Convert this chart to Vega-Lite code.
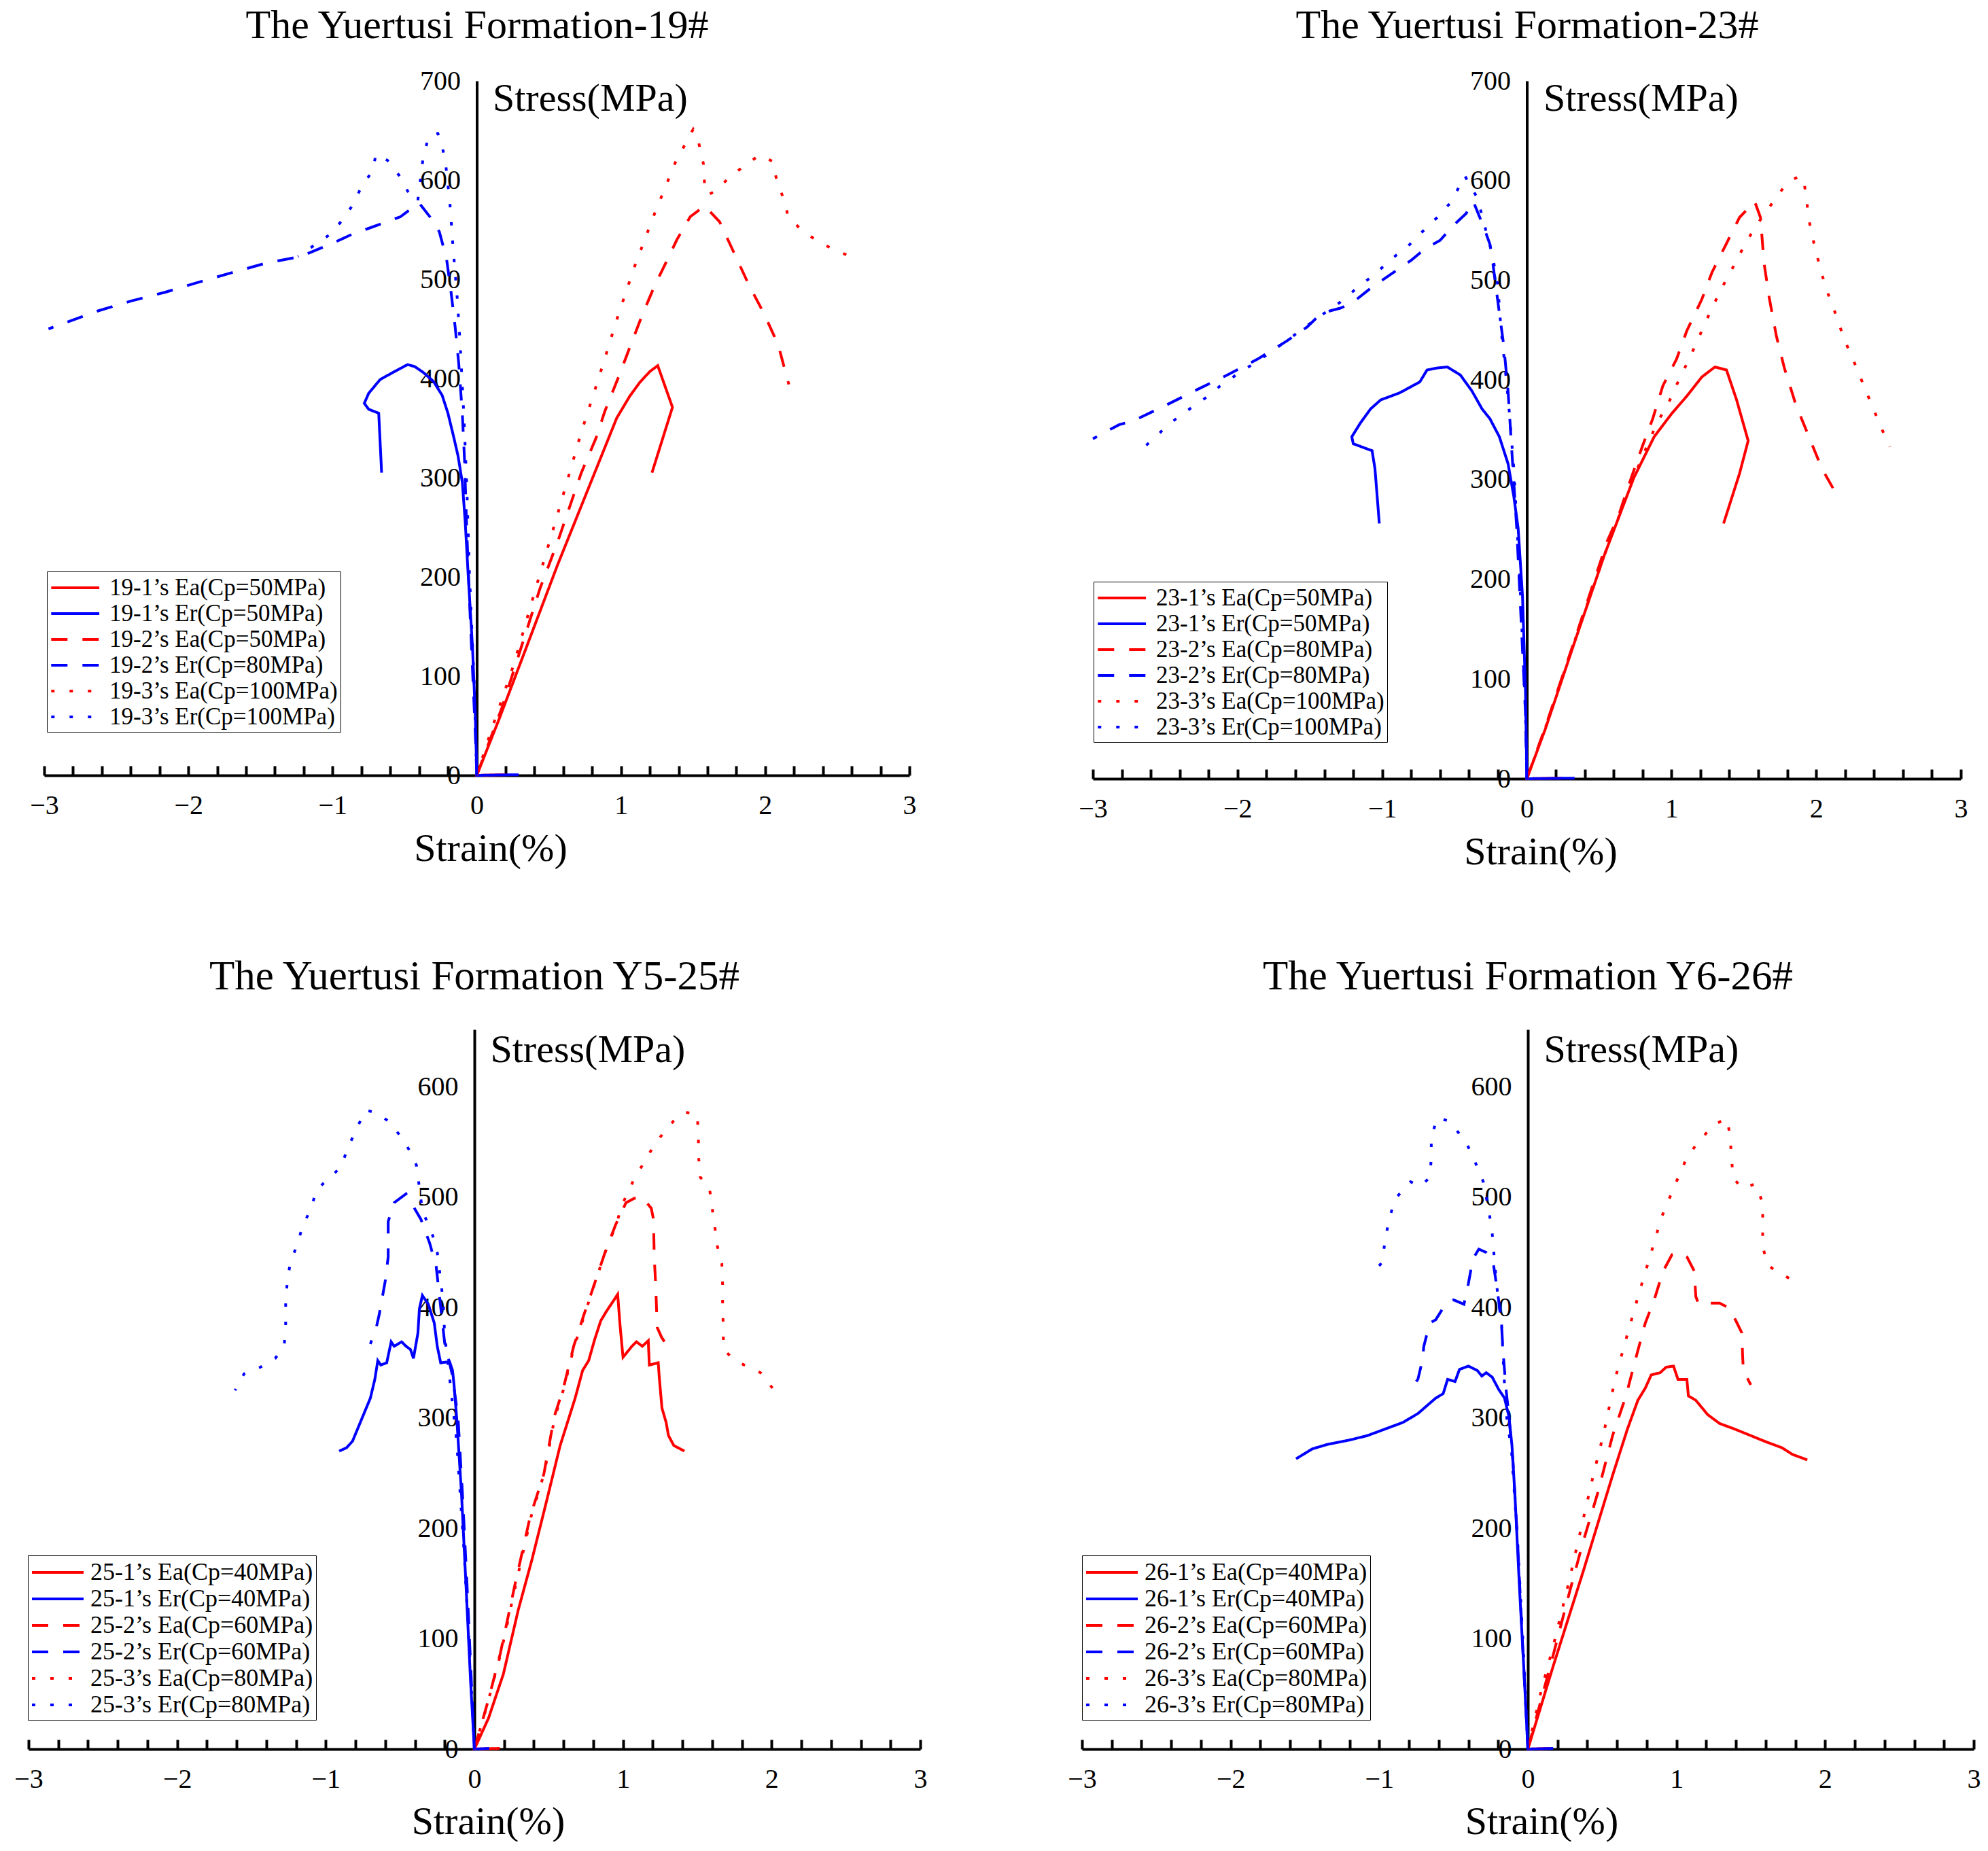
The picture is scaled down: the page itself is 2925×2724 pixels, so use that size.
{
  "$schema": "https://vega.github.io/schema/vega-lite/v6.json",
  "background": "white",
  "padding": {"left": 20, "top": 8, "right": 0, "bottom": 0},
  "bounds": "flush",
  "columns": 2,
  "spacing": {"row": 369, "column": 238},
  "resolve": {"scale": {"color": "independent", "strokeDash": "independent"}, "legend": {"color": "independent", "strokeDash": "independent"}},
  "config": {
    "view": {"stroke": null},
    "font": "Liberation Serif",
    "axis": {"labelFont": "Liberation Serif", "titleFont": "Liberation Serif", "labelColor": "black", "titleColor": "black", "domainColor": "black", "tickColor": "black", "grid": false, "labelFontSize": 40, "titleFontSize": 58, "titleFontWeight": "normal", "labelOverlap": false, "labelFlush": false},
    "axisX": {"values": [-3,-2.5,-2,-1.5,-1,-0.5,0,0.5,1,1.5,2,2.5,3], "labelExpr": "datum.value % 1 === 0 ? format(datum.value, 'd') : ''", "tickSize": -14, "tickWidth": 4, "domainWidth": 4, "labelPadding": 70, "labelBaseline": "alphabetic", "titleAlign": "center", "titleBaseline": "alphabetic"},
    "axisY": {"format": "d", "ticks": false, "domainWidth": 4, "labelPadding": 24, "labelBaseline": "middle", "titleAngle": 0, "titleAlign": "left", "titleBaseline": "alphabetic"},
    "title": {"font": "Liberation Serif", "fontSize": 60, "fontWeight": "normal", "anchor": "middle", "frame": "group", "baseline": "alphabetic", "offset": 30, "color": "black"},
    "legend": {"title": null, "orient": "none", "strokeColor": "black", "padding": 4, "labelFont": "Liberation Serif", "labelFontSize": 35, "labelColor": "black", "symbolType": "M-1,0H3", "symbolSize": 1253, "symbolStrokeWidth": 4, "labelOffset": 48, "rowPadding": 0, "labelLimit": 0}
  },
  "datasets": {
    "p19": [
      {"s":"19-1’s Ea(Cp=50MPa)","x":0.2,"y":0.6},{"s":"19-1’s Ea(Cp=50MPa)","x":0,"y":0},{"s":"19-1’s Ea(Cp=50MPa)","x":0.153,"y":56},{"s":"19-1’s Ea(Cp=50MPa)","x":0.357,"y":134},{"s":"19-1’s Ea(Cp=50MPa)","x":0.56,"y":212},{"s":"19-1’s Ea(Cp=50MPa)","x":0.765,"y":286},{"s":"19-1’s Ea(Cp=50MPa)","x":0.97,"y":360},{"s":"19-1’s Ea(Cp=50MPa)","x":1.06,"y":382},{"s":"19-1’s Ea(Cp=50MPa)","x":1.13,"y":396},{"s":"19-1’s Ea(Cp=50MPa)","x":1.2,"y":407},{"s":"19-1’s Ea(Cp=50MPa)","x":1.255,"y":413},{"s":"19-1’s Ea(Cp=50MPa)","x":1.357,"y":371},{"s":"19-1’s Ea(Cp=50MPa)","x":1.215,"y":305},
      {"s":"19-1’s Er(Cp=50MPa)","x":0.29,"y":0.6},{"s":"19-1’s Er(Cp=50MPa)","x":0,"y":0},{"s":"19-1’s Er(Cp=50MPa)","x":-0.01,"y":60},{"s":"19-1’s Er(Cp=50MPa)","x":-0.03,"y":130},{"s":"19-1’s Er(Cp=50MPa)","x":-0.06,"y":203},{"s":"19-1’s Er(Cp=50MPa)","x":-0.08,"y":255},{"s":"19-1’s Er(Cp=50MPa)","x":-0.1,"y":295},{"s":"19-1’s Er(Cp=50MPa)","x":-0.13,"y":322},{"s":"19-1’s Er(Cp=50MPa)","x":-0.16,"y":341},{"s":"19-1’s Er(Cp=50MPa)","x":-0.2,"y":365},{"s":"19-1’s Er(Cp=50MPa)","x":-0.24,"y":383},{"s":"19-1’s Er(Cp=50MPa)","x":-0.3,"y":397},{"s":"19-1’s Er(Cp=50MPa)","x":-0.37,"y":406},{"s":"19-1’s Er(Cp=50MPa)","x":-0.43,"y":412},{"s":"19-1’s Er(Cp=50MPa)","x":-0.48,"y":414},{"s":"19-1’s Er(Cp=50MPa)","x":-0.57,"y":407},{"s":"19-1’s Er(Cp=50MPa)","x":-0.67,"y":399},{"s":"19-1’s Er(Cp=50MPa)","x":-0.75,"y":385},{"s":"19-1’s Er(Cp=50MPa)","x":-0.78,"y":375},{"s":"19-1’s Er(Cp=50MPa)","x":-0.75,"y":369},{"s":"19-1’s Er(Cp=50MPa)","x":-0.68,"y":365},{"s":"19-1’s Er(Cp=50MPa)","x":-0.66,"y":305},
      {"s":"19-2’s Ea(Cp=50MPa)","x":0,"y":0},{"s":"19-2’s Ea(Cp=50MPa)","x":0.174,"y":68},{"s":"19-2’s Ea(Cp=50MPa)","x":0.44,"y":189},{"s":"19-2’s Ea(Cp=50MPa)","x":0.56,"y":235},{"s":"19-2’s Ea(Cp=50MPa)","x":0.725,"y":305},{"s":"19-2’s Ea(Cp=50MPa)","x":0.827,"y":340},{"s":"19-2’s Ea(Cp=50MPa)","x":0.888,"y":367},{"s":"19-2’s Ea(Cp=50MPa)","x":0.99,"y":404},{"s":"19-2’s Ea(Cp=50MPa)","x":1.06,"y":431},{"s":"19-2’s Ea(Cp=50MPa)","x":1.153,"y":466},{"s":"19-2’s Ea(Cp=50MPa)","x":1.235,"y":494},{"s":"19-2’s Ea(Cp=50MPa)","x":1.296,"y":512},{"s":"19-2’s Ea(Cp=50MPa)","x":1.388,"y":540},{"s":"19-2’s Ea(Cp=50MPa)","x":1.48,"y":563},{"s":"19-2’s Ea(Cp=50MPa)","x":1.58,"y":574},{"s":"19-2’s Ea(Cp=50MPa)","x":1.684,"y":558},{"s":"19-2’s Ea(Cp=50MPa)","x":1.786,"y":526},{"s":"19-2’s Ea(Cp=50MPa)","x":1.888,"y":494},{"s":"19-2’s Ea(Cp=50MPa)","x":1.99,"y":466},{"s":"19-2’s Ea(Cp=50MPa)","x":2.09,"y":434},{"s":"19-2’s Ea(Cp=50MPa)","x":2.164,"y":394},
      {"s":"19-2’s Er(Cp=80MPa)","x":0,"y":0},{"s":"19-2’s Er(Cp=80MPa)","x":-0.01,"y":42},{"s":"19-2’s Er(Cp=80MPa)","x":-0.045,"y":157},{"s":"19-2’s Er(Cp=80MPa)","x":-0.07,"y":249},{"s":"19-2’s Er(Cp=80MPa)","x":-0.085,"y":318},{"s":"19-2’s Er(Cp=80MPa)","x":-0.1,"y":364},{"s":"19-2’s Er(Cp=80MPa)","x":-0.125,"y":415},{"s":"19-2’s Er(Cp=80MPa)","x":-0.15,"y":452},{"s":"19-2’s Er(Cp=80MPa)","x":-0.18,"y":489},{"s":"19-2’s Er(Cp=80MPa)","x":-0.21,"y":521},{"s":"19-2’s Er(Cp=80MPa)","x":-0.26,"y":548},{"s":"19-2’s Er(Cp=80MPa)","x":-0.32,"y":562},{"s":"19-2’s Er(Cp=80MPa)","x":-0.4,"y":577},{"s":"19-2’s Er(Cp=80MPa)","x":-0.53,"y":563},{"s":"19-2’s Er(Cp=80MPa)","x":-0.87,"y":545},{"s":"19-2’s Er(Cp=80MPa)","x":-0.99,"y":537},{"s":"19-2’s Er(Cp=80MPa)","x":-1.22,"y":523},{"s":"19-2’s Er(Cp=80MPa)","x":-1.47,"y":516},{"s":"19-2’s Er(Cp=80MPa)","x":-1.69,"y":507},{"s":"19-2’s Er(Cp=80MPa)","x":-1.93,"y":497},{"s":"19-2’s Er(Cp=80MPa)","x":-2.16,"y":487},{"s":"19-2’s Er(Cp=80MPa)","x":-2.4,"y":478},{"s":"19-2’s Er(Cp=80MPa)","x":-2.63,"y":468},{"s":"19-2’s Er(Cp=80MPa)","x":-2.97,"y":450},
      {"s":"19-3’s Ea(Cp=100MPa)","x":0,"y":0},{"s":"19-3’s Ea(Cp=100MPa)","x":0.1,"y":45},{"s":"19-3’s Ea(Cp=100MPa)","x":0.255,"y":111},{"s":"19-3’s Ea(Cp=100MPa)","x":0.41,"y":189},{"s":"19-3’s Ea(Cp=100MPa)","x":0.56,"y":263},{"s":"19-3’s Ea(Cp=100MPa)","x":0.725,"y":346},{"s":"19-3’s Ea(Cp=100MPa)","x":0.847,"y":401},{"s":"19-3’s Ea(Cp=100MPa)","x":0.97,"y":459},{"s":"19-3’s Ea(Cp=100MPa)","x":1.092,"y":512},{"s":"19-3’s Ea(Cp=100MPa)","x":1.235,"y":567},{"s":"19-3’s Ea(Cp=100MPa)","x":1.378,"y":618},{"s":"19-3’s Ea(Cp=100MPa)","x":1.5,"y":651},{"s":"19-3’s Ea(Cp=100MPa)","x":1.54,"y":637},{"s":"19-3’s Ea(Cp=100MPa)","x":1.572,"y":616},{"s":"19-3’s Ea(Cp=100MPa)","x":1.58,"y":595},{"s":"19-3’s Ea(Cp=100MPa)","x":1.6,"y":585},{"s":"19-3’s Ea(Cp=100MPa)","x":1.643,"y":588},{"s":"19-3’s Ea(Cp=100MPa)","x":1.756,"y":603},{"s":"19-3’s Ea(Cp=100MPa)","x":1.86,"y":615},{"s":"19-3’s Ea(Cp=100MPa)","x":1.96,"y":625},{"s":"19-3’s Ea(Cp=100MPa)","x":2.05,"y":619},{"s":"19-3’s Ea(Cp=100MPa)","x":2.08,"y":600},{"s":"19-3’s Ea(Cp=100MPa)","x":2.13,"y":580},{"s":"19-3’s Ea(Cp=100MPa)","x":2.16,"y":563},{"s":"19-3’s Ea(Cp=100MPa)","x":2.256,"y":549},{"s":"19-3’s Ea(Cp=100MPa)","x":2.38,"y":537},{"s":"19-3’s Ea(Cp=100MPa)","x":2.49,"y":529},{"s":"19-3’s Ea(Cp=100MPa)","x":2.61,"y":522},
      {"s":"19-3’s Er(Cp=100MPa)","x":0,"y":0},{"s":"19-3’s Er(Cp=100MPa)","x":-0.02,"y":100},{"s":"19-3’s Er(Cp=100MPa)","x":-0.05,"y":200},{"s":"19-3’s Er(Cp=100MPa)","x":-0.07,"y":295},{"s":"19-3’s Er(Cp=100MPa)","x":-0.09,"y":364},{"s":"19-3’s Er(Cp=100MPa)","x":-0.115,"y":434},{"s":"19-3’s Er(Cp=100MPa)","x":-0.135,"y":480},{"s":"19-3’s Er(Cp=100MPa)","x":-0.166,"y":535},{"s":"19-3’s Er(Cp=100MPa)","x":-0.186,"y":576},{"s":"19-3’s Er(Cp=100MPa)","x":-0.217,"y":618},{"s":"19-3’s Er(Cp=100MPa)","x":-0.25,"y":641},{"s":"19-3’s Er(Cp=100MPa)","x":-0.27,"y":647},{"s":"19-3’s Er(Cp=100MPa)","x":-0.33,"y":645},{"s":"19-3’s Er(Cp=100MPa)","x":-0.37,"y":625},{"s":"19-3’s Er(Cp=100MPa)","x":-0.41,"y":578},{"s":"19-3’s Er(Cp=100MPa)","x":-0.48,"y":589},{"s":"19-3’s Er(Cp=100MPa)","x":-0.54,"y":605},{"s":"19-3’s Er(Cp=100MPa)","x":-0.62,"y":620},{"s":"19-3’s Er(Cp=100MPa)","x":-0.7,"y":626},{"s":"19-3’s Er(Cp=100MPa)","x":-0.72,"y":610},{"s":"19-3’s Er(Cp=100MPa)","x":-0.8,"y":593},{"s":"19-3’s Er(Cp=100MPa)","x":-0.86,"y":575},{"s":"19-3’s Er(Cp=100MPa)","x":-0.93,"y":560},{"s":"19-3’s Er(Cp=100MPa)","x":-1.02,"y":545},{"s":"19-3’s Er(Cp=100MPa)","x":-1.13,"y":534},{"s":"19-3’s Er(Cp=100MPa)","x":-1.24,"y":523}
    ],
    "p23": [
      {"s":"23-1’s Ea(Cp=50MPa)","x":0.24,"y":0.6},{"s":"23-1’s Ea(Cp=50MPa)","x":0,"y":0},{"s":"23-1’s Ea(Cp=50MPa)","x":0.128,"y":50},{"s":"23-1’s Ea(Cp=50MPa)","x":0.33,"y":137},{"s":"23-1’s Ea(Cp=50MPa)","x":0.535,"y":224},{"s":"23-1’s Ea(Cp=50MPa)","x":0.74,"y":302},{"s":"23-1’s Ea(Cp=50MPa)","x":0.88,"y":343},{"s":"23-1’s Ea(Cp=50MPa)","x":1.0,"y":366},{"s":"23-1’s Ea(Cp=50MPa)","x":1.107,"y":384},{"s":"23-1’s Ea(Cp=50MPa)","x":1.21,"y":403},{"s":"23-1’s Ea(Cp=50MPa)","x":1.3,"y":413},{"s":"23-1’s Ea(Cp=50MPa)","x":1.38,"y":410},{"s":"23-1’s Ea(Cp=50MPa)","x":1.45,"y":380},{"s":"23-1’s Ea(Cp=50MPa)","x":1.53,"y":339},{"s":"23-1’s Ea(Cp=50MPa)","x":1.47,"y":306},{"s":"23-1’s Ea(Cp=50MPa)","x":1.36,"y":256},
      {"s":"23-1’s Er(Cp=50MPa)","x":0.33,"y":0.6},{"s":"23-1’s Er(Cp=50MPa)","x":0,"y":0},{"s":"23-1’s Er(Cp=50MPa)","x":-0.01,"y":91},{"s":"23-1’s Er(Cp=50MPa)","x":-0.03,"y":183},{"s":"23-1’s Er(Cp=50MPa)","x":-0.06,"y":251},{"s":"23-1’s Er(Cp=50MPa)","x":-0.09,"y":283},{"s":"23-1’s Er(Cp=50MPa)","x":-0.13,"y":316},{"s":"23-1’s Er(Cp=50MPa)","x":-0.19,"y":343},{"s":"23-1’s Er(Cp=50MPa)","x":-0.255,"y":361},{"s":"23-1’s Er(Cp=50MPa)","x":-0.31,"y":371},{"s":"23-1’s Er(Cp=50MPa)","x":-0.38,"y":389},{"s":"23-1’s Er(Cp=50MPa)","x":-0.46,"y":405},{"s":"23-1’s Er(Cp=50MPa)","x":-0.55,"y":413},{"s":"23-1’s Er(Cp=50MPa)","x":-0.62,"y":412},{"s":"23-1’s Er(Cp=50MPa)","x":-0.69,"y":410},{"s":"23-1’s Er(Cp=50MPa)","x":-0.74,"y":398},{"s":"23-1’s Er(Cp=50MPa)","x":-0.88,"y":387},{"s":"23-1’s Er(Cp=50MPa)","x":-1.01,"y":380},{"s":"23-1’s Er(Cp=50MPa)","x":-1.08,"y":371},{"s":"23-1’s Er(Cp=50MPa)","x":-1.15,"y":357},{"s":"23-1’s Er(Cp=50MPa)","x":-1.21,"y":343},{"s":"23-1’s Er(Cp=50MPa)","x":-1.2,"y":336},{"s":"23-1’s Er(Cp=50MPa)","x":-1.07,"y":329},{"s":"23-1’s Er(Cp=50MPa)","x":-1.05,"y":311},{"s":"23-1’s Er(Cp=50MPa)","x":-1.02,"y":256},
      {"s":"23-2’s Ea(Cp=80MPa)","x":0,"y":0},{"s":"23-2’s Ea(Cp=80MPa)","x":0.128,"y":52},{"s":"23-2’s Ea(Cp=80MPa)","x":0.33,"y":139},{"s":"23-2’s Ea(Cp=80MPa)","x":0.555,"y":238},{"s":"23-2’s Ea(Cp=80MPa)","x":0.637,"y":265},{"s":"23-2’s Ea(Cp=80MPa)","x":0.71,"y":297},{"s":"23-2’s Ea(Cp=80MPa)","x":0.8,"y":334},{"s":"23-2’s Ea(Cp=80MPa)","x":0.87,"y":361},{"s":"23-2’s Ea(Cp=80MPa)","x":0.94,"y":394},{"s":"23-2’s Ea(Cp=80MPa)","x":1.035,"y":421},{"s":"23-2’s Ea(Cp=80MPa)","x":1.105,"y":449},{"s":"23-2’s Ea(Cp=80MPa)","x":1.21,"y":481},{"s":"23-2’s Ea(Cp=80MPa)","x":1.28,"y":508},{"s":"23-2’s Ea(Cp=80MPa)","x":1.37,"y":534},{"s":"23-2’s Ea(Cp=80MPa)","x":1.47,"y":563},{"s":"23-2’s Ea(Cp=80MPa)","x":1.575,"y":579},{"s":"23-2’s Ea(Cp=80MPa)","x":1.615,"y":563},{"s":"23-2’s Ea(Cp=80MPa)","x":1.64,"y":517},{"s":"23-2’s Ea(Cp=80MPa)","x":1.675,"y":483},{"s":"23-2’s Ea(Cp=80MPa)","x":1.725,"y":444},{"s":"23-2’s Ea(Cp=80MPa)","x":1.78,"y":412},{"s":"23-2’s Ea(Cp=80MPa)","x":1.86,"y":375},{"s":"23-2’s Ea(Cp=80MPa)","x":1.95,"y":343},{"s":"23-2’s Ea(Cp=80MPa)","x":2.04,"y":311},{"s":"23-2’s Ea(Cp=80MPa)","x":2.165,"y":279},
      {"s":"23-2’s Er(Cp=80MPa)","x":0,"y":0},{"s":"23-2’s Er(Cp=80MPa)","x":-0.01,"y":68},{"s":"23-2’s Er(Cp=80MPa)","x":-0.04,"y":160},{"s":"23-2’s Er(Cp=80MPa)","x":-0.07,"y":251},{"s":"23-2’s Er(Cp=80MPa)","x":-0.09,"y":297},{"s":"23-2’s Er(Cp=80MPa)","x":-0.11,"y":343},{"s":"23-2’s Er(Cp=80MPa)","x":-0.13,"y":389},{"s":"23-2’s Er(Cp=80MPa)","x":-0.16,"y":435},{"s":"23-2’s Er(Cp=80MPa)","x":-0.19,"y":467},{"s":"23-2’s Er(Cp=80MPa)","x":-0.235,"y":517},{"s":"23-2’s Er(Cp=80MPa)","x":-0.255,"y":536},{"s":"23-2’s Er(Cp=80MPa)","x":-0.3,"y":554},{"s":"23-2’s Er(Cp=80MPa)","x":-0.37,"y":579},{"s":"23-2’s Er(Cp=80MPa)","x":-0.42,"y":567},{"s":"23-2’s Er(Cp=80MPa)","x":-0.5,"y":556},{"s":"23-2’s Er(Cp=80MPa)","x":-0.6,"y":540},{"s":"23-2’s Er(Cp=80MPa)","x":-0.7,"y":532},{"s":"23-2’s Er(Cp=80MPa)","x":-0.8,"y":520},{"s":"23-2’s Er(Cp=80MPa)","x":-0.88,"y":512},{"s":"23-2’s Er(Cp=80MPa)","x":-1.0,"y":500},{"s":"23-2’s Er(Cp=80MPa)","x":-1.08,"y":492},{"s":"23-2’s Er(Cp=80MPa)","x":-1.21,"y":477},{"s":"23-2’s Er(Cp=80MPa)","x":-1.29,"y":472},{"s":"23-2’s Er(Cp=80MPa)","x":-1.42,"y":467},{"s":"23-2’s Er(Cp=80MPa)","x":-1.52,"y":453},{"s":"23-2’s Er(Cp=80MPa)","x":-1.66,"y":439},{"s":"23-2’s Er(Cp=80MPa)","x":-1.86,"y":421},{"s":"23-2’s Er(Cp=80MPa)","x":-2.07,"y":405},{"s":"23-2’s Er(Cp=80MPa)","x":-2.27,"y":391},{"s":"23-2’s Er(Cp=80MPa)","x":-2.49,"y":375},{"s":"23-2’s Er(Cp=80MPa)","x":-2.72,"y":359},{"s":"23-2’s Er(Cp=80MPa)","x":-2.82,"y":355},{"s":"23-2’s Er(Cp=80MPa)","x":-3.0,"y":341},
      {"s":"23-3’s Ea(Cp=100MPa)","x":0,"y":0},{"s":"23-3’s Ea(Cp=100MPa)","x":0.13,"y":52},{"s":"23-3’s Ea(Cp=100MPa)","x":0.33,"y":138},{"s":"23-3’s Ea(Cp=100MPa)","x":0.54,"y":226},{"s":"23-3’s Ea(Cp=100MPa)","x":0.74,"y":303},{"s":"23-3’s Ea(Cp=100MPa)","x":0.9,"y":357},{"s":"23-3’s Ea(Cp=100MPa)","x":0.98,"y":377},{"s":"23-3’s Ea(Cp=100MPa)","x":1.045,"y":398},{"s":"23-3’s Ea(Cp=100MPa)","x":1.105,"y":416},{"s":"23-3’s Ea(Cp=100MPa)","x":1.166,"y":435},{"s":"23-3’s Ea(Cp=100MPa)","x":1.22,"y":453},{"s":"23-3’s Ea(Cp=100MPa)","x":1.28,"y":472},{"s":"23-3’s Ea(Cp=100MPa)","x":1.33,"y":487},{"s":"23-3’s Ea(Cp=100MPa)","x":1.39,"y":504},{"s":"23-3’s Ea(Cp=100MPa)","x":1.44,"y":517},{"s":"23-3’s Ea(Cp=100MPa)","x":1.5,"y":534},{"s":"23-3’s Ea(Cp=100MPa)","x":1.565,"y":550},{"s":"23-3’s Ea(Cp=100MPa)","x":1.625,"y":563},{"s":"23-3’s Ea(Cp=100MPa)","x":1.695,"y":577},{"s":"23-3’s Ea(Cp=100MPa)","x":1.77,"y":592},{"s":"23-3’s Ea(Cp=100MPa)","x":1.84,"y":601},{"s":"23-3’s Ea(Cp=100MPa)","x":1.89,"y":605},{"s":"23-3’s Ea(Cp=100MPa)","x":1.92,"y":595},{"s":"23-3’s Ea(Cp=100MPa)","x":1.94,"y":573},{"s":"23-3’s Ea(Cp=100MPa)","x":1.96,"y":552},{"s":"23-3’s Ea(Cp=100MPa)","x":1.99,"y":534},{"s":"23-3’s Ea(Cp=100MPa)","x":2.03,"y":511},{"s":"23-3’s Ea(Cp=100MPa)","x":2.07,"y":491},{"s":"23-3’s Ea(Cp=100MPa)","x":2.12,"y":472},{"s":"23-3’s Ea(Cp=100MPa)","x":2.17,"y":451},{"s":"23-3’s Ea(Cp=100MPa)","x":2.22,"y":432},{"s":"23-3’s Ea(Cp=100MPa)","x":2.28,"y":412},{"s":"23-3’s Ea(Cp=100MPa)","x":2.33,"y":394},{"s":"23-3’s Ea(Cp=100MPa)","x":2.39,"y":373},{"s":"23-3’s Ea(Cp=100MPa)","x":2.45,"y":352},{"s":"23-3’s Ea(Cp=100MPa)","x":2.51,"y":333},
      {"s":"23-3’s Er(Cp=100MPa)","x":0,"y":0},{"s":"23-3’s Er(Cp=100MPa)","x":-0.01,"y":68},{"s":"23-3’s Er(Cp=100MPa)","x":-0.05,"y":205},{"s":"23-3’s Er(Cp=100MPa)","x":-0.09,"y":311},{"s":"23-3’s Er(Cp=100MPa)","x":-0.12,"y":366},{"s":"23-3’s Er(Cp=100MPa)","x":-0.15,"y":412},{"s":"23-3’s Er(Cp=100MPa)","x":-0.18,"y":453},{"s":"23-3’s Er(Cp=100MPa)","x":-0.2,"y":494},{"s":"23-3’s Er(Cp=100MPa)","x":-0.24,"y":527},{"s":"23-3’s Er(Cp=100MPa)","x":-0.3,"y":559},{"s":"23-3’s Er(Cp=100MPa)","x":-0.34,"y":582},{"s":"23-3’s Er(Cp=100MPa)","x":-0.43,"y":605},{"s":"23-3’s Er(Cp=100MPa)","x":-0.52,"y":579},{"s":"23-3’s Er(Cp=100MPa)","x":-0.62,"y":563},{"s":"23-3’s Er(Cp=100MPa)","x":-0.72,"y":549},{"s":"23-3’s Er(Cp=100MPa)","x":-0.83,"y":533},{"s":"23-3’s Er(Cp=100MPa)","x":-0.94,"y":521},{"s":"23-3’s Er(Cp=100MPa)","x":-1.05,"y":506},{"s":"23-3’s Er(Cp=100MPa)","x":-1.16,"y":494},{"s":"23-3’s Er(Cp=100MPa)","x":-1.29,"y":478},{"s":"23-3’s Er(Cp=100MPa)","x":-1.4,"y":467},{"s":"23-3’s Er(Cp=100MPa)","x":-1.57,"y":449},{"s":"23-3’s Er(Cp=100MPa)","x":-1.74,"y":431},{"s":"23-3’s Er(Cp=100MPa)","x":-1.86,"y":419},{"s":"23-3’s Er(Cp=100MPa)","x":-2.0,"y":406},{"s":"23-3’s Er(Cp=100MPa)","x":-2.12,"y":394},{"s":"23-3’s Er(Cp=100MPa)","x":-2.23,"y":381},{"s":"23-3’s Er(Cp=100MPa)","x":-2.36,"y":368},{"s":"23-3’s Er(Cp=100MPa)","x":-2.48,"y":355},{"s":"23-3’s Er(Cp=100MPa)","x":-2.58,"y":341},{"s":"23-3’s Er(Cp=100MPa)","x":-2.69,"y":327}
    ],
    "p25": [
      {"s":"25-1’s Ea(Cp=40MPa)","x":0.17,"y":0.6},{"s":"25-1’s Ea(Cp=40MPa)","x":0,"y":0},{"s":"25-1’s Ea(Cp=40MPa)","x":0.095,"y":28},{"s":"25-1’s Ea(Cp=40MPa)","x":0.195,"y":68},{"s":"25-1’s Ea(Cp=40MPa)","x":0.295,"y":126},{"s":"25-1’s Ea(Cp=40MPa)","x":0.386,"y":171},{"s":"25-1’s Ea(Cp=40MPa)","x":0.477,"y":220},{"s":"25-1’s Ea(Cp=40MPa)","x":0.577,"y":275},{"s":"25-1’s Ea(Cp=40MPa)","x":0.678,"y":318},{"s":"25-1’s Ea(Cp=40MPa)","x":0.728,"y":343},{"s":"25-1’s Ea(Cp=40MPa)","x":0.769,"y":352},{"s":"25-1’s Ea(Cp=40MPa)","x":0.809,"y":371},{"s":"25-1’s Ea(Cp=40MPa)","x":0.85,"y":388},{"s":"25-1’s Ea(Cp=40MPa)","x":0.89,"y":397},{"s":"25-1’s Ea(Cp=40MPa)","x":0.93,"y":405},{"s":"25-1’s Ea(Cp=40MPa)","x":0.964,"y":412},{"s":"25-1’s Ea(Cp=40MPa)","x":0.98,"y":384},{"s":"25-1’s Ea(Cp=40MPa)","x":1.0,"y":355},{"s":"25-1’s Ea(Cp=40MPa)","x":1.06,"y":365},{"s":"25-1’s Ea(Cp=40MPa)","x":1.09,"y":369},{"s":"25-1’s Ea(Cp=40MPa)","x":1.13,"y":365},{"s":"25-1’s Ea(Cp=40MPa)","x":1.17,"y":370},{"s":"25-1’s Ea(Cp=40MPa)","x":1.177,"y":348},{"s":"25-1’s Ea(Cp=40MPa)","x":1.237,"y":350},{"s":"25-1’s Ea(Cp=40MPa)","x":1.245,"y":335},{"s":"25-1’s Ea(Cp=40MPa)","x":1.262,"y":309},{"s":"25-1’s Ea(Cp=40MPa)","x":1.29,"y":296},{"s":"25-1’s Ea(Cp=40MPa)","x":1.306,"y":284},{"s":"25-1’s Ea(Cp=40MPa)","x":1.342,"y":275},{"s":"25-1’s Ea(Cp=40MPa)","x":1.413,"y":270},
      {"s":"25-1’s Er(Cp=40MPa)","x":0.1,"y":0.6},{"s":"25-1’s Er(Cp=40MPa)","x":0,"y":0},{"s":"25-1’s Er(Cp=40MPa)","x":-0.026,"y":62},{"s":"25-1’s Er(Cp=40MPa)","x":-0.056,"y":147},{"s":"25-1’s Er(Cp=40MPa)","x":-0.087,"y":232},{"s":"25-1’s Er(Cp=40MPa)","x":-0.117,"y":296},{"s":"25-1’s Er(Cp=40MPa)","x":-0.137,"y":330},{"s":"25-1’s Er(Cp=40MPa)","x":-0.147,"y":343},{"s":"25-1’s Er(Cp=40MPa)","x":-0.167,"y":351},{"s":"25-1’s Er(Cp=40MPa)","x":-0.227,"y":350},{"s":"25-1’s Er(Cp=40MPa)","x":-0.25,"y":365},{"s":"25-1’s Er(Cp=40MPa)","x":-0.27,"y":386},{"s":"25-1’s Er(Cp=40MPa)","x":-0.31,"y":403},{"s":"25-1’s Er(Cp=40MPa)","x":-0.35,"y":411},{"s":"25-1’s Er(Cp=40MPa)","x":-0.37,"y":399},{"s":"25-1’s Er(Cp=40MPa)","x":-0.38,"y":377},{"s":"25-1’s Er(Cp=40MPa)","x":-0.41,"y":354},{"s":"25-1’s Er(Cp=40MPa)","x":-0.43,"y":362},{"s":"25-1’s Er(Cp=40MPa)","x":-0.46,"y":365},{"s":"25-1’s Er(Cp=40MPa)","x":-0.49,"y":369},{"s":"25-1’s Er(Cp=40MPa)","x":-0.54,"y":365},{"s":"25-1’s Er(Cp=40MPa)","x":-0.56,"y":369},{"s":"25-1’s Er(Cp=40MPa)","x":-0.59,"y":350},{"s":"25-1’s Er(Cp=40MPa)","x":-0.63,"y":348},{"s":"25-1’s Er(Cp=40MPa)","x":-0.65,"y":352},{"s":"25-1’s Er(Cp=40MPa)","x":-0.67,"y":335},{"s":"25-1’s Er(Cp=40MPa)","x":-0.7,"y":318},{"s":"25-1’s Er(Cp=40MPa)","x":-0.74,"y":305},{"s":"25-1’s Er(Cp=40MPa)","x":-0.78,"y":292},{"s":"25-1’s Er(Cp=40MPa)","x":-0.82,"y":279},{"s":"25-1’s Er(Cp=40MPa)","x":-0.86,"y":273},{"s":"25-1’s Er(Cp=40MPa)","x":-0.91,"y":270},
      {"s":"25-2’s Ea(Cp=60MPa)","x":0,"y":0},{"s":"25-2’s Ea(Cp=60MPa)","x":0.095,"y":45},{"s":"25-2’s Ea(Cp=60MPa)","x":0.175,"y":87},{"s":"25-2’s Ea(Cp=60MPa)","x":0.276,"y":151},{"s":"25-2’s Ea(Cp=60MPa)","x":0.376,"y":211},{"s":"25-2’s Ea(Cp=60MPa)","x":0.467,"y":249},{"s":"25-2’s Ea(Cp=60MPa)","x":0.537,"y":301},{"s":"25-2’s Ea(Cp=60MPa)","x":0.597,"y":326},{"s":"25-2’s Ea(Cp=60MPa)","x":0.668,"y":365},{"s":"25-2’s Ea(Cp=60MPa)","x":0.738,"y":394},{"s":"25-2’s Ea(Cp=60MPa)","x":0.799,"y":418},{"s":"25-2’s Ea(Cp=60MPa)","x":0.879,"y":450},{"s":"25-2’s Ea(Cp=60MPa)","x":0.95,"y":475},{"s":"25-2’s Ea(Cp=60MPa)","x":1.02,"y":495},{"s":"25-2’s Ea(Cp=60MPa)","x":1.076,"y":499},{"s":"25-2’s Ea(Cp=60MPa)","x":1.13,"y":500},{"s":"25-2’s Ea(Cp=60MPa)","x":1.19,"y":490},{"s":"25-2’s Ea(Cp=60MPa)","x":1.205,"y":480},{"s":"25-2’s Ea(Cp=60MPa)","x":1.21,"y":446},{"s":"25-2’s Ea(Cp=60MPa)","x":1.22,"y":420},{"s":"25-2’s Ea(Cp=60MPa)","x":1.23,"y":382},{"s":"25-2’s Ea(Cp=60MPa)","x":1.26,"y":373},{"s":"25-2’s Ea(Cp=60MPa)","x":1.29,"y":367},
      {"s":"25-2’s Er(Cp=60MPa)","x":0,"y":0},{"s":"25-2’s Er(Cp=60MPa)","x":-0.02,"y":60},{"s":"25-2’s Er(Cp=60MPa)","x":-0.05,"y":150},{"s":"25-2’s Er(Cp=60MPa)","x":-0.08,"y":230},{"s":"25-2’s Er(Cp=60MPa)","x":-0.11,"y":300},{"s":"25-2’s Er(Cp=60MPa)","x":-0.15,"y":340},{"s":"25-2’s Er(Cp=60MPa)","x":-0.2,"y":368},{"s":"25-2’s Er(Cp=60MPa)","x":-0.257,"y":437},{"s":"25-2’s Er(Cp=60MPa)","x":-0.3,"y":458},{"s":"25-2’s Er(Cp=60MPa)","x":-0.36,"y":480},{"s":"25-2’s Er(Cp=60MPa)","x":-0.46,"y":503},{"s":"25-2’s Er(Cp=60MPa)","x":-0.54,"y":495},{"s":"25-2’s Er(Cp=60MPa)","x":-0.58,"y":478},{"s":"25-2’s Er(Cp=60MPa)","x":-0.58,"y":446},{"s":"25-2’s Er(Cp=60MPa)","x":-0.6,"y":424},{"s":"25-2’s Er(Cp=60MPa)","x":-0.64,"y":394},{"s":"25-2’s Er(Cp=60MPa)","x":-0.66,"y":382},{"s":"25-2’s Er(Cp=60MPa)","x":-0.7,"y":367},
      {"s":"25-3’s Ea(Cp=80MPa)","x":0,"y":0},{"s":"25-3’s Ea(Cp=80MPa)","x":0.09,"y":42},{"s":"25-3’s Ea(Cp=80MPa)","x":0.18,"y":88},{"s":"25-3’s Ea(Cp=80MPa)","x":0.28,"y":150},{"s":"25-3’s Ea(Cp=80MPa)","x":0.38,"y":210},{"s":"25-3’s Ea(Cp=80MPa)","x":0.47,"y":250},{"s":"25-3’s Ea(Cp=80MPa)","x":0.54,"y":300},{"s":"25-3’s Ea(Cp=80MPa)","x":0.6,"y":326},{"s":"25-3’s Ea(Cp=80MPa)","x":0.67,"y":364},{"s":"25-3’s Ea(Cp=80MPa)","x":0.74,"y":393},{"s":"25-3’s Ea(Cp=80MPa)","x":0.8,"y":418},{"s":"25-3’s Ea(Cp=80MPa)","x":0.88,"y":450},{"s":"25-3’s Ea(Cp=80MPa)","x":0.95,"y":474},{"s":"25-3’s Ea(Cp=80MPa)","x":1.0,"y":495},{"s":"25-3’s Ea(Cp=80MPa)","x":1.08,"y":518},{"s":"25-3’s Ea(Cp=80MPa)","x":1.14,"y":531},{"s":"25-3’s Ea(Cp=80MPa)","x":1.2,"y":545},{"s":"25-3’s Ea(Cp=80MPa)","x":1.27,"y":558},{"s":"25-3’s Ea(Cp=80MPa)","x":1.34,"y":569},{"s":"25-3’s Ea(Cp=80MPa)","x":1.42,"y":577},{"s":"25-3’s Ea(Cp=80MPa)","x":1.5,"y":575},{"s":"25-3’s Ea(Cp=80MPa)","x":1.507,"y":554},{"s":"25-3’s Ea(Cp=80MPa)","x":1.51,"y":534},{"s":"25-3’s Ea(Cp=80MPa)","x":1.52,"y":518},{"s":"25-3’s Ea(Cp=80MPa)","x":1.58,"y":510},{"s":"25-3’s Ea(Cp=80MPa)","x":1.6,"y":490},{"s":"25-3’s Ea(Cp=80MPa)","x":1.62,"y":471},{"s":"25-3’s Ea(Cp=80MPa)","x":1.63,"y":458},{"s":"25-3’s Ea(Cp=80MPa)","x":1.665,"y":440},{"s":"25-3’s Ea(Cp=80MPa)","x":1.67,"y":421},{"s":"25-3’s Ea(Cp=80MPa)","x":1.67,"y":401},{"s":"25-3’s Ea(Cp=80MPa)","x":1.675,"y":382},{"s":"25-3’s Ea(Cp=80MPa)","x":1.675,"y":362},{"s":"25-3’s Ea(Cp=80MPa)","x":1.755,"y":352},{"s":"25-3’s Ea(Cp=80MPa)","x":1.815,"y":348},{"s":"25-3’s Ea(Cp=80MPa)","x":1.925,"y":341},{"s":"25-3’s Ea(Cp=80MPa)","x":2.006,"y":327},
      {"s":"25-3’s Er(Cp=80MPa)","x":0,"y":0},{"s":"25-3’s Er(Cp=80MPa)","x":-0.03,"y":80},{"s":"25-3’s Er(Cp=80MPa)","x":-0.07,"y":180},{"s":"25-3’s Er(Cp=80MPa)","x":-0.12,"y":280},{"s":"25-3’s Er(Cp=80MPa)","x":-0.17,"y":340},{"s":"25-3’s Er(Cp=80MPa)","x":-0.2,"y":375},{"s":"25-3’s Er(Cp=80MPa)","x":-0.21,"y":406},{"s":"25-3’s Er(Cp=80MPa)","x":-0.23,"y":428},{"s":"25-3’s Er(Cp=80MPa)","x":-0.25,"y":450},{"s":"25-3’s Er(Cp=80MPa)","x":-0.28,"y":465},{"s":"25-3’s Er(Cp=80MPa)","x":-0.35,"y":488},{"s":"25-3’s Er(Cp=80MPa)","x":-0.39,"y":529},{"s":"25-3’s Er(Cp=80MPa)","x":-0.43,"y":541},{"s":"25-3’s Er(Cp=80MPa)","x":-0.49,"y":554},{"s":"25-3’s Er(Cp=80MPa)","x":-0.57,"y":568},{"s":"25-3’s Er(Cp=80MPa)","x":-0.65,"y":576},{"s":"25-3’s Er(Cp=80MPa)","x":-0.73,"y":579},{"s":"25-3’s Er(Cp=80MPa)","x":-0.79,"y":563},{"s":"25-3’s Er(Cp=80MPa)","x":-0.85,"y":545},{"s":"25-3’s Er(Cp=80MPa)","x":-0.9,"y":527},{"s":"25-3’s Er(Cp=80MPa)","x":-0.98,"y":517},{"s":"25-3’s Er(Cp=80MPa)","x":-1.06,"y":507},{"s":"25-3’s Er(Cp=80MPa)","x":-1.1,"y":490},{"s":"25-3’s Er(Cp=80MPa)","x":-1.16,"y":472},{"s":"25-3’s Er(Cp=80MPa)","x":-1.19,"y":458},{"s":"25-3’s Er(Cp=80MPa)","x":-1.24,"y":440},{"s":"25-3’s Er(Cp=80MPa)","x":-1.26,"y":422},{"s":"25-3’s Er(Cp=80MPa)","x":-1.27,"y":403},{"s":"25-3’s Er(Cp=80MPa)","x":-1.27,"y":384},{"s":"25-3’s Er(Cp=80MPa)","x":-1.28,"y":365},{"s":"25-3’s Er(Cp=80MPa)","x":-1.34,"y":354},{"s":"25-3’s Er(Cp=80MPa)","x":-1.44,"y":346},{"s":"25-3’s Er(Cp=80MPa)","x":-1.55,"y":340},{"s":"25-3’s Er(Cp=80MPa)","x":-1.61,"y":325}
    ],
    "p26": [
      {"s":"26-1’s Ea(Cp=40MPa)","x":0.15,"y":0.6},{"s":"26-1’s Ea(Cp=40MPa)","x":0,"y":0},{"s":"26-1’s Ea(Cp=40MPa)","x":0.17,"y":75},{"s":"26-1’s Ea(Cp=40MPa)","x":0.37,"y":160},{"s":"26-1’s Ea(Cp=40MPa)","x":0.57,"y":248},{"s":"26-1’s Ea(Cp=40MPa)","x":0.67,"y":290},{"s":"26-1’s Ea(Cp=40MPa)","x":0.74,"y":316},{"s":"26-1’s Ea(Cp=40MPa)","x":0.79,"y":327},{"s":"26-1’s Ea(Cp=40MPa)","x":0.83,"y":339},{"s":"26-1’s Ea(Cp=40MPa)","x":0.89,"y":341},{"s":"26-1’s Ea(Cp=40MPa)","x":0.93,"y":346},{"s":"26-1’s Ea(Cp=40MPa)","x":0.98,"y":347},{"s":"26-1’s Ea(Cp=40MPa)","x":1.01,"y":335},{"s":"26-1’s Ea(Cp=40MPa)","x":1.07,"y":335},{"s":"26-1’s Ea(Cp=40MPa)","x":1.08,"y":320},{"s":"26-1’s Ea(Cp=40MPa)","x":1.13,"y":316},{"s":"26-1’s Ea(Cp=40MPa)","x":1.21,"y":303},{"s":"26-1’s Ea(Cp=40MPa)","x":1.29,"y":295},{"s":"26-1’s Ea(Cp=40MPa)","x":1.39,"y":290},{"s":"26-1’s Ea(Cp=40MPa)","x":1.5,"y":284},{"s":"26-1’s Ea(Cp=40MPa)","x":1.61,"y":278},{"s":"26-1’s Ea(Cp=40MPa)","x":1.71,"y":273},{"s":"26-1’s Ea(Cp=40MPa)","x":1.78,"y":267},{"s":"26-1’s Ea(Cp=40MPa)","x":1.88,"y":262},
      {"s":"26-1’s Er(Cp=40MPa)","x":0.17,"y":0.6},{"s":"26-1’s Er(Cp=40MPa)","x":0,"y":0},{"s":"26-1’s Er(Cp=40MPa)","x":-0.026,"y":70},{"s":"26-1’s Er(Cp=40MPa)","x":-0.056,"y":145},{"s":"26-1’s Er(Cp=40MPa)","x":-0.087,"y":230},{"s":"26-1’s Er(Cp=40MPa)","x":-0.107,"y":275},{"s":"26-1’s Er(Cp=40MPa)","x":-0.127,"y":301},{"s":"26-1’s Er(Cp=40MPa)","x":-0.157,"y":318},{"s":"26-1’s Er(Cp=40MPa)","x":-0.197,"y":326},{"s":"26-1’s Er(Cp=40MPa)","x":-0.24,"y":337},{"s":"26-1’s Er(Cp=40MPa)","x":-0.28,"y":341},{"s":"26-1’s Er(Cp=40MPa)","x":-0.31,"y":338},{"s":"26-1’s Er(Cp=40MPa)","x":-0.34,"y":343},{"s":"26-1’s Er(Cp=40MPa)","x":-0.4,"y":347},{"s":"26-1’s Er(Cp=40MPa)","x":-0.46,"y":344},{"s":"26-1’s Er(Cp=40MPa)","x":-0.49,"y":333},{"s":"26-1’s Er(Cp=40MPa)","x":-0.54,"y":335},{"s":"26-1’s Er(Cp=40MPa)","x":-0.57,"y":322},{"s":"26-1’s Er(Cp=40MPa)","x":-0.62,"y":318},{"s":"26-1’s Er(Cp=40MPa)","x":-0.68,"y":311},{"s":"26-1’s Er(Cp=40MPa)","x":-0.74,"y":304},{"s":"26-1’s Er(Cp=40MPa)","x":-0.84,"y":296},{"s":"26-1’s Er(Cp=40MPa)","x":-0.96,"y":290},{"s":"26-1’s Er(Cp=40MPa)","x":-1.08,"y":284},{"s":"26-1’s Er(Cp=40MPa)","x":-1.2,"y":280},{"s":"26-1’s Er(Cp=40MPa)","x":-1.35,"y":276},{"s":"26-1’s Er(Cp=40MPa)","x":-1.45,"y":272},{"s":"26-1’s Er(Cp=40MPa)","x":-1.56,"y":263},
      {"s":"26-2’s Ea(Cp=60MPa)","x":0,"y":0},{"s":"26-2’s Ea(Cp=60MPa)","x":0.17,"y":85},{"s":"26-2’s Ea(Cp=60MPa)","x":0.27,"y":137},{"s":"26-2’s Ea(Cp=60MPa)","x":0.37,"y":187},{"s":"26-2’s Ea(Cp=60MPa)","x":0.47,"y":232},{"s":"26-2’s Ea(Cp=60MPa)","x":0.57,"y":284},{"s":"26-2’s Ea(Cp=60MPa)","x":0.66,"y":320},{"s":"26-2’s Ea(Cp=60MPa)","x":0.73,"y":356},{"s":"26-2’s Ea(Cp=60MPa)","x":0.79,"y":386},{"s":"26-2’s Ea(Cp=60MPa)","x":0.85,"y":407},{"s":"26-2’s Ea(Cp=60MPa)","x":0.91,"y":433},{"s":"26-2’s Ea(Cp=60MPa)","x":0.97,"y":448},{"s":"26-2’s Ea(Cp=60MPa)","x":1.01,"y":450},{"s":"26-2’s Ea(Cp=60MPa)","x":1.07,"y":446},{"s":"26-2’s Ea(Cp=60MPa)","x":1.12,"y":433},{"s":"26-2’s Ea(Cp=60MPa)","x":1.13,"y":410},{"s":"26-2’s Ea(Cp=60MPa)","x":1.15,"y":403},{"s":"26-2’s Ea(Cp=60MPa)","x":1.21,"y":404},{"s":"26-2’s Ea(Cp=60MPa)","x":1.29,"y":404},{"s":"26-2’s Ea(Cp=60MPa)","x":1.35,"y":400},{"s":"26-2’s Ea(Cp=60MPa)","x":1.4,"y":388},{"s":"26-2’s Ea(Cp=60MPa)","x":1.44,"y":377},{"s":"26-2’s Ea(Cp=60MPa)","x":1.445,"y":356},{"s":"26-2’s Ea(Cp=60MPa)","x":1.45,"y":343},{"s":"26-2’s Ea(Cp=60MPa)","x":1.5,"y":330},
      {"s":"26-2’s Er(Cp=60MPa)","x":0,"y":0},{"s":"26-2’s Er(Cp=60MPa)","x":-0.03,"y":80},{"s":"26-2’s Er(Cp=60MPa)","x":-0.07,"y":190},{"s":"26-2’s Er(Cp=60MPa)","x":-0.1,"y":260},{"s":"26-2’s Er(Cp=60MPa)","x":-0.13,"y":305},{"s":"26-2’s Er(Cp=60MPa)","x":-0.147,"y":326},{"s":"26-2’s Er(Cp=60MPa)","x":-0.167,"y":360},{"s":"26-2’s Er(Cp=60MPa)","x":-0.177,"y":384},{"s":"26-2’s Er(Cp=60MPa)","x":-0.197,"y":407},{"s":"26-2’s Er(Cp=60MPa)","x":-0.217,"y":426},{"s":"26-2’s Er(Cp=60MPa)","x":-0.237,"y":444},{"s":"26-2’s Er(Cp=60MPa)","x":-0.28,"y":450},{"s":"26-2’s Er(Cp=60MPa)","x":-0.33,"y":453},{"s":"26-2’s Er(Cp=60MPa)","x":-0.37,"y":444},{"s":"26-2’s Er(Cp=60MPa)","x":-0.4,"y":422},{"s":"26-2’s Er(Cp=60MPa)","x":-0.43,"y":403},{"s":"26-2’s Er(Cp=60MPa)","x":-0.5,"y":407},{"s":"26-2’s Er(Cp=60MPa)","x":-0.55,"y":404},{"s":"26-2’s Er(Cp=60MPa)","x":-0.62,"y":389},{"s":"26-2’s Er(Cp=60MPa)","x":-0.66,"y":386},{"s":"26-2’s Er(Cp=60MPa)","x":-0.7,"y":365},{"s":"26-2’s Er(Cp=60MPa)","x":-0.71,"y":352},{"s":"26-2’s Er(Cp=60MPa)","x":-0.74,"y":335},{"s":"26-2’s Er(Cp=60MPa)","x":-0.77,"y":330},
      {"s":"26-3’s Ea(Cp=80MPa)","x":0,"y":0},{"s":"26-3’s Ea(Cp=80MPa)","x":0.09,"y":53},{"s":"26-3’s Ea(Cp=80MPa)","x":0.17,"y":93},{"s":"26-3’s Ea(Cp=80MPa)","x":0.27,"y":148},{"s":"26-3’s Ea(Cp=80MPa)","x":0.36,"y":201},{"s":"26-3’s Ea(Cp=80MPa)","x":0.44,"y":248},{"s":"26-3’s Ea(Cp=80MPa)","x":0.51,"y":286},{"s":"26-3’s Ea(Cp=80MPa)","x":0.59,"y":337},{"s":"26-3’s Ea(Cp=80MPa)","x":0.67,"y":376},{"s":"26-3’s Ea(Cp=80MPa)","x":0.75,"y":414},{"s":"26-3’s Ea(Cp=80MPa)","x":0.83,"y":450},{"s":"26-3’s Ea(Cp=80MPa)","x":0.9,"y":482},{"s":"26-3’s Ea(Cp=80MPa)","x":0.98,"y":508},{"s":"26-3’s Ea(Cp=80MPa)","x":1.07,"y":536},{"s":"26-3’s Ea(Cp=80MPa)","x":1.13,"y":547},{"s":"26-3’s Ea(Cp=80MPa)","x":1.2,"y":558},{"s":"26-3’s Ea(Cp=80MPa)","x":1.27,"y":567},{"s":"26-3’s Ea(Cp=80MPa)","x":1.34,"y":571},{"s":"26-3’s Ea(Cp=80MPa)","x":1.36,"y":556},{"s":"26-3’s Ea(Cp=80MPa)","x":1.37,"y":537},{"s":"26-3’s Ea(Cp=80MPa)","x":1.38,"y":518},{"s":"26-3’s Ea(Cp=80MPa)","x":1.44,"y":508},{"s":"26-3’s Ea(Cp=80MPa)","x":1.53,"y":512},{"s":"26-3’s Ea(Cp=80MPa)","x":1.58,"y":495},{"s":"26-3’s Ea(Cp=80MPa)","x":1.58,"y":475},{"s":"26-3’s Ea(Cp=80MPa)","x":1.58,"y":456},{"s":"26-3’s Ea(Cp=80MPa)","x":1.61,"y":439},{"s":"26-3’s Ea(Cp=80MPa)","x":1.67,"y":433},{"s":"26-3’s Ea(Cp=80MPa)","x":1.78,"y":425},
      {"s":"26-3’s Er(Cp=80MPa)","x":0,"y":0},{"s":"26-3’s Er(Cp=80MPa)","x":-0.03,"y":90},{"s":"26-3’s Er(Cp=80MPa)","x":-0.07,"y":190},{"s":"26-3’s Er(Cp=80MPa)","x":-0.11,"y":270},{"s":"26-3’s Er(Cp=80MPa)","x":-0.147,"y":305},{"s":"26-3’s Er(Cp=80MPa)","x":-0.165,"y":350},{"s":"26-3’s Er(Cp=80MPa)","x":-0.177,"y":386},{"s":"26-3’s Er(Cp=80MPa)","x":-0.21,"y":420},{"s":"26-3’s Er(Cp=80MPa)","x":-0.24,"y":467},{"s":"26-3’s Er(Cp=80MPa)","x":-0.26,"y":486},{"s":"26-3’s Er(Cp=80MPa)","x":-0.3,"y":514},{"s":"26-3’s Er(Cp=80MPa)","x":-0.34,"y":527},{"s":"26-3’s Er(Cp=80MPa)","x":-0.37,"y":537},{"s":"26-3’s Er(Cp=80MPa)","x":-0.41,"y":548},{"s":"26-3’s Er(Cp=80MPa)","x":-0.47,"y":559},{"s":"26-3’s Er(Cp=80MPa)","x":-0.53,"y":569},{"s":"26-3’s Er(Cp=80MPa)","x":-0.61,"y":572},{"s":"26-3’s Er(Cp=80MPa)","x":-0.65,"y":554},{"s":"26-3’s Er(Cp=80MPa)","x":-0.65,"y":535},{"s":"26-3’s Er(Cp=80MPa)","x":-0.66,"y":518},{"s":"26-3’s Er(Cp=80MPa)","x":-0.72,"y":510},{"s":"26-3’s Er(Cp=80MPa)","x":-0.79,"y":514},{"s":"26-3’s Er(Cp=80MPa)","x":-0.89,"y":499},{"s":"26-3’s Er(Cp=80MPa)","x":-0.93,"y":482},{"s":"26-3’s Er(Cp=80MPa)","x":-0.96,"y":462},{"s":"26-3’s Er(Cp=80MPa)","x":-0.98,"y":441},{"s":"26-3’s Er(Cp=80MPa)","x":-1.04,"y":432}
    ]
  },
  "concat": [
    {
      "data": {"name": "p19"},
      "width": 1296, "height": 1022,
      "title": {"text": "The Yuertusi Formation-19#", "dx": 12},
      "mark": {"type": "line", "strokeWidth": 4},
      "encoding": {
        "x": {"field": "x", "type": "quantitative",
          "scale": {"domain": [-3, 3], "nice": false, "zero": false, "rangeMin": 23},
          "axis": {"title": "Strain(%)", "titleX": 679.5, "titleY": 125,
            "encode": {"ticks": {"y2": {"condition": {"test": "datum.value % 1 !== 0", "value": -7}, "value": -14}}}}},
        "y": {"field": "y", "type": "quantitative",
          "scale": {"domain": [0, 700], "nice": false},
          "axis": {"values": [0,100,200,300,400,500,600,700], "offset": -659.5, "title": "Stress(MPa)", "titleX": 23, "titleY": 43}},
        "color": {"field": "s", "type": "nominal",
          "scale": {"domain": ["19-1’s Ea(Cp=50MPa)","19-1’s Er(Cp=50MPa)","19-2’s Ea(Cp=50MPa)","19-2’s Er(Cp=80MPa)","19-3’s Ea(Cp=100MPa)","19-3’s Er(Cp=100MPa)"], "range": ["#ff0000","#0000ff","#ff0000","#0000ff","#ff0000","#0000ff"]},
          "legend": {"legendX": 27, "legendY": 722}},
        "strokeDash": {"field": "s", "type": "nominal",
          "scale": {"domain": ["19-1’s Ea(Cp=50MPa)","19-1’s Er(Cp=50MPa)","19-2’s Ea(Cp=50MPa)","19-2’s Er(Cp=80MPa)","19-3’s Ea(Cp=100MPa)","19-3’s Er(Cp=100MPa)"], "range": [[1,0],[1,0],[24,22],[24,22],[5,22],[5,22]]},
          "legend": {"legendX": 27, "legendY": 722}},
        "order": {"value": null}
      }
    },
    {
      "data": {"name": "p23"},
      "width": 1293, "height": 1027,
      "title": {"text": "The Yuertusi Formation-23#", "dx": 8.5},
      "mark": {"type": "line", "strokeWidth": 4},
      "encoding": {
        "x": {"field": "x", "type": "quantitative",
          "scale": {"domain": [-3, 3], "nice": false, "zero": false, "rangeMin": 16},
          "axis": {"title": "Strain(%)", "titleX": 674.5, "titleY": 125,
            "encode": {"ticks": {"y2": {"condition": {"test": "datum.value % 1 !== 0", "value": -7}, "value": -14}}}}},
        "y": {"field": "y", "type": "quantitative",
          "scale": {"domain": [0, 700], "nice": false},
          "axis": {"values": [0,100,200,300,400,500,600,700], "offset": -654.5, "title": "Stress(MPa)", "titleX": 24, "titleY": 43}},
        "color": {"field": "s", "type": "nominal",
          "scale": {"domain": ["23-1’s Ea(Cp=50MPa)","23-1’s Er(Cp=50MPa)","23-2’s Ea(Cp=80MPa)","23-2’s Er(Cp=80MPa)","23-3’s Ea(Cp=100MPa)","23-3’s Er(Cp=100MPa)"], "range": ["#ff0000","#0000ff","#ff0000","#0000ff","#ff0000","#0000ff"]},
          "legend": {"legendX": 17, "legendY": 737}},
        "strokeDash": {"field": "s", "type": "nominal",
          "scale": {"domain": ["23-1’s Ea(Cp=50MPa)","23-1’s Er(Cp=50MPa)","23-2’s Ea(Cp=80MPa)","23-2’s Er(Cp=80MPa)","23-3’s Ea(Cp=100MPa)","23-3’s Er(Cp=100MPa)"], "range": [[1,0],[1,0],[24,22],[24,22],[5,22],[5,22]]},
          "legend": {"legendX": 17, "legendY": 737}},
        "order": {"value": null}
      }
    },
    {
      "data": {"name": "p25"},
      "width": 1312, "height": 1059,
      "title": {"text": "The Yuertusi Formation Y5-25#", "fontSize": 61, "offset": 46},
      "mark": {"type": "line", "strokeWidth": 4},
      "encoding": {
        "x": {"field": "x", "type": "quantitative",
          "scale": {"domain": [-3, 3], "nice": false, "zero": false},
          "axis": {"title": "Strain(%)", "titleX": 676, "titleY": 124,
            "encode": {"ticks": {"y2": {"condition": {"test": "datum.value % 1 !== 0", "value": -7}, "value": -14}}}}},
        "y": {"field": "y", "type": "quantitative",
          "scale": {"domain": [0, 652], "nice": false},
          "axis": {"values": [0,100,200,300,400,500,600], "offset": -656, "title": "Stress(MPa)", "titleX": 23, "titleY": 47}},
        "color": {"field": "s", "type": "nominal",
          "scale": {"domain": ["25-1’s Ea(Cp=40MPa)","25-1’s Er(Cp=40MPa)","25-2’s Ea(Cp=60MPa)","25-2’s Er(Cp=60MPa)","25-3’s Ea(Cp=80MPa)","25-3’s Er(Cp=80MPa)"], "range": ["#ff0000","#0000ff","#ff0000","#0000ff","#ff0000","#0000ff"]},
          "legend": {"legendX": -1, "legendY": 774, "labelFontSize": 36, "symbolSize": 1444, "labelOffset": 46}},
        "strokeDash": {"field": "s", "type": "nominal",
          "scale": {"domain": ["25-1’s Ea(Cp=40MPa)","25-1’s Er(Cp=40MPa)","25-2’s Ea(Cp=60MPa)","25-2’s Er(Cp=60MPa)","25-3’s Ea(Cp=80MPa)","25-3’s Er(Cp=80MPa)"], "range": [[1,0],[1,0],[24,22],[24,22],[5,22],[5,22]]},
          "legend": {"legendX": -1, "legendY": 774, "labelFontSize": 36, "symbolSize": 1444, "labelOffset": 46}},
        "order": {"value": null}
      }
    },
    {
      "data": {"name": "p26"},
      "width": 1312, "height": 1059,
      "title": {"text": "The Yuertusi Formation Y6-26#", "fontSize": 61, "offset": 46},
      "mark": {"type": "line", "strokeWidth": 4},
      "encoding": {
        "x": {"field": "x", "type": "quantitative",
          "scale": {"domain": [-3, 3], "nice": false, "zero": false},
          "axis": {"title": "Strain(%)", "titleX": 676, "titleY": 124,
            "encode": {"ticks": {"y2": {"condition": {"test": "datum.value % 1 !== 0", "value": -7}, "value": -14}}}}},
        "y": {"field": "y", "type": "quantitative",
          "scale": {"domain": [0, 652], "nice": false},
          "axis": {"values": [0,100,200,300,400,500,600], "offset": -656, "title": "Stress(MPa)", "titleX": 23, "titleY": 47}},
        "color": {"field": "s", "type": "nominal",
          "scale": {"domain": ["26-1’s Ea(Cp=40MPa)","26-1’s Er(Cp=40MPa)","26-2’s Ea(Cp=60MPa)","26-2’s Er(Cp=60MPa)","26-3’s Ea(Cp=80MPa)","26-3’s Er(Cp=80MPa)"], "range": ["#ff0000","#0000ff","#ff0000","#0000ff","#ff0000","#0000ff"]},
          "legend": {"legendX": 0, "legendY": 774, "labelFontSize": 36, "symbolSize": 1444, "labelOffset": 46}},
        "strokeDash": {"field": "s", "type": "nominal",
          "scale": {"domain": ["26-1’s Ea(Cp=40MPa)","26-1’s Er(Cp=40MPa)","26-2’s Ea(Cp=60MPa)","26-2’s Er(Cp=60MPa)","26-3’s Ea(Cp=80MPa)","26-3’s Er(Cp=80MPa)"], "range": [[1,0],[1,0],[24,22],[24,22],[5,22],[5,22]]},
          "legend": {"legendX": 0, "legendY": 774, "labelFontSize": 36, "symbolSize": 1444, "labelOffset": 46}},
        "order": {"value": null}
      }
    }
  ]
}
